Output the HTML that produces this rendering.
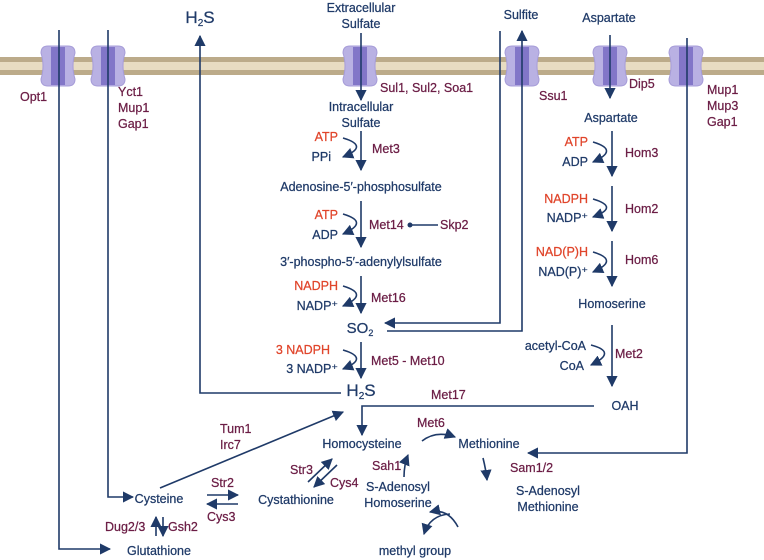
<!DOCTYPE html>
<html><head><meta charset="utf-8"><style>
html,body{margin:0;padding:0;background:#fff;}
svg{display:block;}
text{font-family:"Liberation Sans",sans-serif;font-size:12.5px;stroke-width:0.25px;}
.n{fill:#1f3a68;stroke:#1f3a68;}
.e{fill:#6b1d45;stroke:#6b1d45;}
.r{fill:#e0452b;stroke:#e0452b;}
</style></head><body>
<svg width="764" height="560" viewBox="0 0 764 560" xmlns="http://www.w3.org/2000/svg">
<defs>
<marker id="a" viewBox="0 0 10 10" refX="9" refY="5" markerWidth="7" markerHeight="7" orient="auto-start-reverse"><path d="M0,0 L10,5 L0,10 z" fill="#1f3a68"/></marker>
<g id="ch">
<path d="M-10,-20 Q-17,-20 -17,-13 Q-13,0 -17,13 Q-17,20 -10,20 L10,20 Q17,20 17,13 Q13,0 17,-13 Q17,-20 10,-20 Z" fill="#b9b1e3" stroke="#a69cd8"/>
<rect x="-7" y="-19" width="14" height="38" fill="#8276c8"/>
</g>
</defs>
<rect x="0" y="57" width="764" height="18" fill="#bcab8a"/>
<rect x="0" y="62" width="764" height="8" fill="#e8dcc2"/>
<use href="#ch" x="58" y="66"/>
<use href="#ch" x="108" y="66"/>
<use href="#ch" x="360" y="66"/>
<use href="#ch" x="522" y="66"/>
<use href="#ch" x="610" y="66"/>
<use href="#ch" x="686" y="66"/>
<g stroke="#1f3a68" stroke-width="1.6" fill="none">
<polyline points="59,30 59,549 110,549" marker-end="url(#a)"/>
<polyline points="108,30 108,497 133,497" marker-end="url(#a)"/>
<polyline points="341,393 200,393 200,36" marker-end="url(#a)"/>
<line x1="361" y1="33" x2="361" y2="100" marker-end="url(#a)"/>
<line x1="361" y1="131" x2="361" y2="170" marker-end="url(#a)"/>
<line x1="361" y1="201" x2="361" y2="247" marker-end="url(#a)"/>
<line x1="361" y1="276" x2="361" y2="313" marker-end="url(#a)"/>
<line x1="361" y1="342" x2="361" y2="378" marker-end="url(#a)"/>
<polyline points="500,31 500,323 385,323" marker-end="url(#a)"/>
<polyline points="387,331 522,331 522,31" marker-end="url(#a)"/>
<line x1="610" y1="35" x2="610" y2="98" marker-end="url(#a)"/>
<line x1="612" y1="131" x2="612" y2="176" marker-end="url(#a)"/>
<line x1="612" y1="186" x2="612" y2="231" marker-end="url(#a)"/>
<line x1="612" y1="241" x2="612" y2="286" marker-end="url(#a)"/>
<line x1="612" y1="325" x2="612" y2="386" marker-end="url(#a)"/>
<polyline points="594,406 362,406 362,435" marker-end="url(#a)"/>
<polyline points="687,38 687,453 528,453" marker-end="url(#a)"/>
<line x1="160" y1="488" x2="343" y2="412" marker-end="url(#a)"/>
<line x1="207" y1="495" x2="238" y2="495" marker-end="url(#a)"/>
<line x1="238" y1="504" x2="207" y2="504" marker-end="url(#a)"/>
<line x1="308" y1="482" x2="332" y2="459" marker-end="url(#a)"/>
<line x1="337" y1="465" x2="314" y2="487" marker-end="url(#a)"/>
<line x1="156" y1="536" x2="156" y2="517" marker-end="url(#a)"/>
<line x1="163" y1="517" x2="163" y2="536" marker-end="url(#a)"/>
<path d="M422,441 Q436,430 455,437" marker-end="url(#a)"/>
<path d="M404,477 Q404,465 408,455" marker-end="url(#a)"/>
<path d="M483,458 Q486,470 487,480" marker-end="url(#a)"/>
<path d="M458,527 Q448,508 430,512" marker-end="url(#a)"/>
<path d="M450,514 Q430,515 424,534" marker-end="url(#a)"/>
<path d="M343,138 Q370,146 343,157" marker-end="url(#a)"/>
<path d="M343,214 Q370,222 343,234" marker-end="url(#a)"/>
<path d="M343,286 Q370,294 343,306" marker-end="url(#a)"/>
<path d="M343,350 Q370,358 343,369" marker-end="url(#a)"/>
<path d="M593,142 Q620,150 593,162" marker-end="url(#a)"/>
<path d="M593,199 Q620,207 593,217" marker-end="url(#a)"/>
<path d="M593,252 Q620,260 593,272" marker-end="url(#a)"/>
<path d="M591,345 Q618,352 591,365" marker-end="url(#a)"/>
<line x1="410" y1="225" x2="438" y2="225"/>
</g>
<circle cx="410" cy="225" r="2.5" fill="#1f3a68"/>
<g class="n" text-anchor="middle">
<text x="200" y="23" style="font-size:17px">H<tspan style="font-size:10px" dy="3">2</tspan><tspan dy="-3">S</tspan></text>
<text x="361" y="12">Extracellular</text>
<text x="361" y="28">Sulfate</text>
<text x="361" y="111">Intracellular</text>
<text x="361" y="127">Sulfate</text>
<text x="361" y="191">Adenosine-5′-phosphosulfate</text>
<text x="361" y="266">3′-phospho-5′-adenylylsulfate</text>
<text x="360" y="333" style="font-size:15px">SO<tspan style="font-size:9px" dy="3">2</tspan></text>
<text x="361" y="396" style="font-size:17px">H<tspan style="font-size:10px" dy="3">2</tspan><tspan dy="-3">S</tspan></text>
<text x="521" y="19">Sulfite</text>
<text x="609" y="22">Aspartate</text>
<text x="611" y="122">Aspartate</text>
<text x="612" y="308">Homoserine</text>
<text x="625" y="410">OAH</text>
<text x="362" y="448">Homocysteine</text>
<text x="489" y="448">Methionine</text>
<text x="398" y="491">S-Adenosyl</text>
<text x="398" y="507">Homoserine</text>
<text x="548" y="495">S-Adenosyl</text>
<text x="548" y="511">Methionine</text>
<text x="415" y="555">methyl group</text>
<text x="159" y="503">Cysteine</text>
<text x="296" y="504">Cystathionine</text>
<text x="159" y="555">Glutathione</text>
</g>
<g class="n" text-anchor="end">
<text x="331" y="161">PPi</text>
<text x="338" y="239">ADP</text>
<text x="338" y="310">NADP⁺</text>
<text x="338" y="373">3 NADP⁺</text>
<text x="588" y="166">ADP</text>
<text x="588" y="222">NADP⁺</text>
<text x="588" y="276">NAD(P)⁺</text>
<text x="586" y="350">acetyl-CoA</text>
<text x="584" y="370">CoA</text>
</g>
<g class="r" text-anchor="end">
<text x="338" y="141">ATP</text>
<text x="338" y="219">ATP</text>
<text x="338" y="290">NADPH</text>
<text x="330" y="354">3 NADPH</text>
<text x="588" y="146">ATP</text>
<text x="588" y="203">NADPH</text>
<text x="588" y="256">NAD(P)H</text>
</g>
<g class="e">
<text x="20" y="101">Opt1</text>
<text x="118" y="96">Yct1</text>
<text x="118" y="112">Mup1</text>
<text x="118" y="128">Gap1</text>
<text x="380" y="92">Sul1, Sul2, Soa1</text>
<text x="539" y="100">Ssu1</text>
<text x="629" y="88">Dip5</text>
<text x="707" y="94">Mup1</text>
<text x="707" y="110">Mup3</text>
<text x="707" y="126">Gap1</text>
<text x="372" y="153">Met3</text>
<text x="369" y="229">Met14</text>
<text x="440" y="229">Skp2</text>
<text x="371" y="302">Met16</text>
<text x="371" y="365">Met5 - Met10</text>
<text x="625" y="157">Hom3</text>
<text x="625" y="213">Hom2</text>
<text x="625" y="264">Hom6</text>
<text x="615" y="358">Met2</text>
<text x="431" y="399">Met17</text>
<text x="417" y="427">Met6</text>
<text x="220" y="433">Tum1</text>
<text x="220" y="449">Irc7</text>
<text x="211" y="487">Str2</text>
<text x="207" y="521">Cys3</text>
<text x="290" y="474">Str3</text>
<text x="330" y="487">Cys4</text>
<text x="372" y="470">Sah1</text>
<text x="510" y="472">Sam1/2</text>
<text x="105" y="531">Dug2/3</text>
<text x="168" y="531">Gsh2</text>
</g>
</svg>
</body></html>
